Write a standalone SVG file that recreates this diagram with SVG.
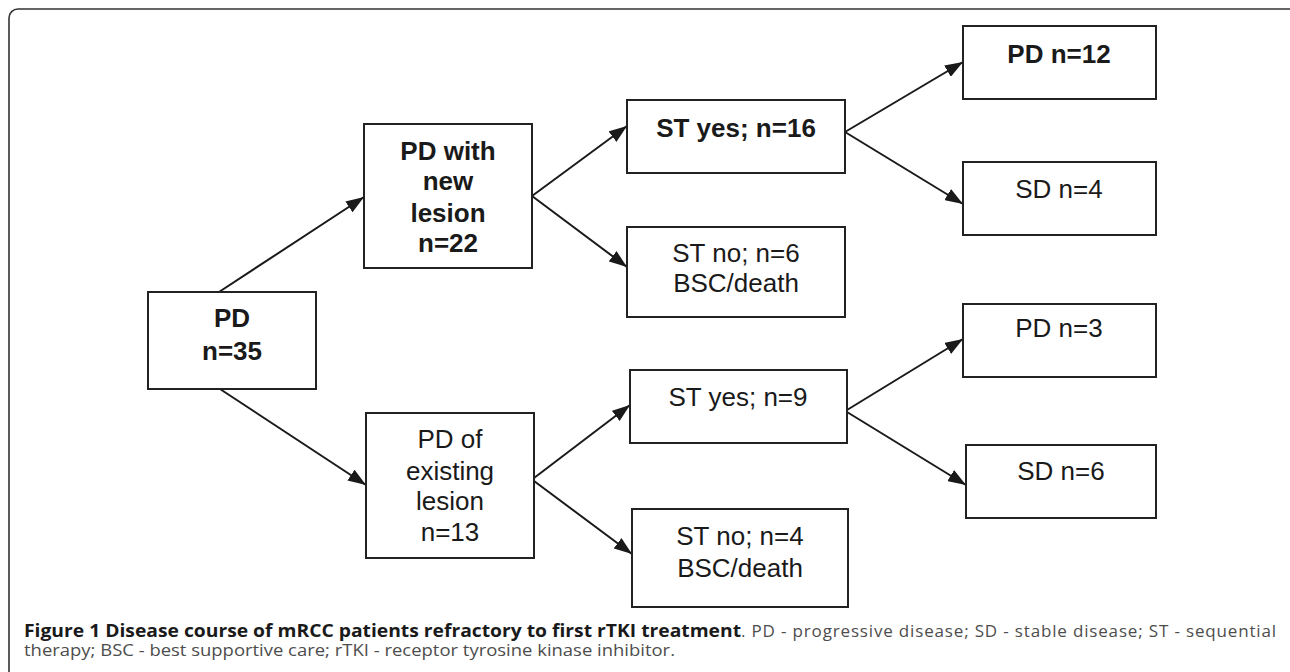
<svg xmlns="http://www.w3.org/2000/svg" width="1290" height="672" viewBox="0 0 1290 672">
<style>
  .box { fill: #fff; stroke: #222; stroke-width: 2; }
  .t { font-family: "Liberation Sans", Arial, sans-serif; font-size: 26px; fill: #1a1a1a; text-anchor: middle; }
  .b { font-weight: bold; }
  .conn line { stroke: #1a1a1a; stroke-width: 2; marker-end: url(#ah); }
  .cap { font-family: "Open Sans", "Noto Sans", sans-serif; font-size: 17px; fill: #4d4d4d; }
  .capb { font-weight: bold; fill: #1a1a1a; }
</style>
<defs>
  <marker id="ah" markerUnits="userSpaceOnUse" markerWidth="18" markerHeight="13" refX="18" refY="6.5" orient="auto">
    <path d="M0,0 L18,6.5 L0,13 z" fill="#1a1a1a"/>
  </marker>
</defs>
<rect x="9" y="9" width="1290" height="700" rx="9" fill="#fff" stroke="#333" stroke-width="1.6"/>

<g id="connectors" class="conn">
  <line x1="219" y1="292" x2="364" y2="197"/>
  <line x1="220" y1="389" x2="366" y2="485"/>
  <line x1="532" y1="196" x2="627" y2="126"/>
  <line x1="532" y1="196" x2="627" y2="267"/>
  <line x1="845" y1="132" x2="963" y2="62"/>
  <line x1="845" y1="132" x2="963" y2="204"/>
  <line x1="534" y1="478" x2="630" y2="405"/>
  <line x1="534" y1="481" x2="632" y2="554"/>
  <line x1="847" y1="410" x2="963" y2="339"/>
  <line x1="847" y1="412" x2="966" y2="485"/>
</g>

<g id="n_pd35">
  <rect class="box" x="148" y="292" width="168" height="97"/>
  <text class="t b" x="232" y="327">PD</text>
  <text class="t b" x="232" y="360">n=35</text>
</g>
<g id="n_newlesion">
  <rect class="box" x="364" y="124" width="168" height="144"/>
  <text class="t b" x="448" y="160">PD with</text>
  <text class="t b" x="448" y="190">new</text>
  <text class="t b" x="448" y="222">lesion</text>
  <text class="t b" x="448" y="252">n=22</text>
</g>
<g id="n_existing">
  <rect class="box" x="366" y="413" width="168" height="145"/>
  <text class="t" x="450" y="448">PD of</text>
  <text class="t" x="450" y="480">existing</text>
  <text class="t" x="450" y="510">lesion</text>
  <text class="t" x="450" y="541">n=13</text>
</g>
<g id="n_styes16">
  <rect class="box" x="627" y="100" width="218" height="73"/>
  <text class="t b" x="736" y="137">ST yes; n=16</text>
</g>
<g id="n_stno6">
  <rect class="box" x="627" y="227" width="218" height="90"/>
  <text class="t" x="736" y="262">ST no; n=6</text>
  <text class="t" x="736" y="292">BSC/death</text>
</g>
<g id="n_pd12">
  <rect class="box" x="963" y="26" width="193" height="73"/>
  <text class="t b" x="1059" y="63">PD n=12</text>
</g>
<g id="n_sd4">
  <rect class="box" x="963" y="162" width="193" height="73"/>
  <text class="t" x="1059" y="198">SD n=4</text>
</g>
<g id="n_styes9">
  <rect class="box" x="630" y="370" width="217" height="73"/>
  <text class="t" x="738" y="406">ST yes; n=9</text>
</g>
<g id="n_stno4">
  <rect class="box" x="632" y="509" width="216" height="98"/>
  <text class="t" x="740" y="545">ST no; n=4</text>
  <text class="t" x="740" y="577">BSC/death</text>
</g>
<g id="n_pd3">
  <rect class="box" x="963" y="304" width="193" height="73"/>
  <text class="t" x="1059" y="337">PD n=3</text>
</g>
<g id="n_sd6">
  <rect class="box" x="966" y="445" width="190" height="73"/>
  <text class="t" x="1061" y="480">SD n=6</text>
</g>

<g id="caption">
  <text class="cap capb" x="24" y="637" textLength="717" lengthAdjust="spacingAndGlyphs">Figure 1 Disease course of mRCC patients refractory to first rTKI treatment</text>
  <text class="cap" x="741" y="637" textLength="535" lengthAdjust="spacing">. PD - progressive disease; SD - stable disease; ST - sequential</text>
  <text class="cap" x="24" y="656" textLength="651" lengthAdjust="spacingAndGlyphs">therapy; BSC - best supportive care; rTKI - receptor tyrosine kinase inhibitor.</text>
</g>
</svg>
